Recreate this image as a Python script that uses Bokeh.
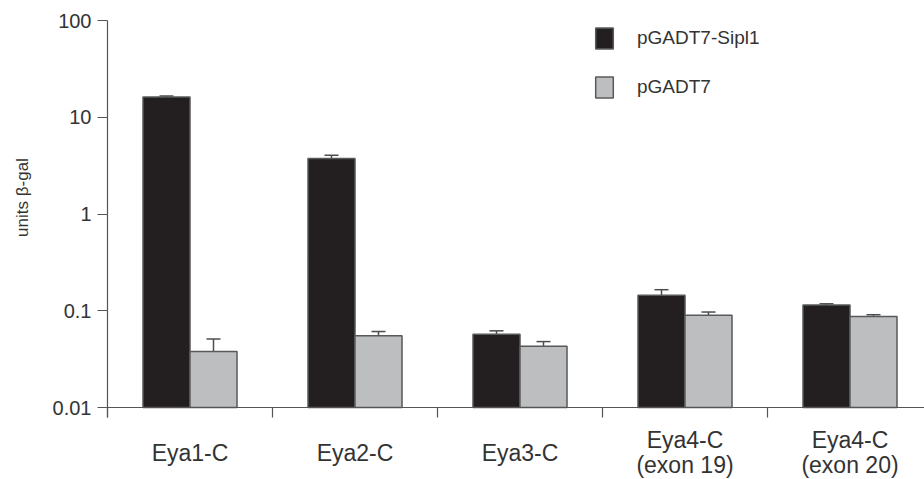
import math
from bokeh.plotting import figure
from bokeh.models import (ColumnDataSource, Range1d, FixedTicker, CustomJSTickFormatter,
                          Whisker, TeeHead, Legend, LegendItem, Label)
from bokeh.embed import file_html
from bokeh.resources import INLINE

# ---- data ----
categories = ["Eya1-C", "Eya2-C", "Eya3-C", "Eya4-C\n(exon 19)", "Eya4-C\n(exon 20)"]
series_names = ["pGADT7-Sipl1", "pGADT7"]
sipl1_values = [16.2, 3.75, 0.057, 0.145, 0.115]
sipl1_errors = [0.4, 0.31, 0.005, 0.02, 0.003]
gadt7_values = [0.038, 0.055, 0.043, 0.090, 0.087]
gadt7_errors = [0.013, 0.006, 0.005, 0.007, 0.004]
y_ticks = [0.01, 0.1, 1, 10, 100]
y_label = "units β-gal"

# ---- layout / style (pixels) ----
FONT = "Liberation Sans"
DARK = "#231f20"
GRAY = "#bcbec0"
EDGE = "#58595b"
AXC = "#555555"
TXT = "#333333"
W, H = 924, 479
AXIS_X = 107          # y-axis position on canvas
AXIS_Y = 407          # x-axis position on canvas
TOP = 20              # position of the top tick on canvas
CAT_PX = 165.0
BAR_W = 0.285
OFF = 0.1424

n = len(categories)
centers = [i + 0.5 for i in range(n)]
lo, hi = math.log10(y_ticks[0]), math.log10(y_ticks[-1])
px_dec = (AXIS_Y - TOP) / (hi - lo)
y_start = 10 ** (lo - (H - AXIS_Y) / px_dec)
y_end = 10 ** (hi + TOP / px_dec)
x_start = -AXIS_X / CAT_PX
x_end = (W - AXIS_X) / CAT_PX

p = figure(width=W, height=H, y_axis_type="log", output_backend="svg",
           toolbar_location=None, x_range=Range1d(x_start, x_end),
           y_range=Range1d(y_start, y_end),
           min_border_left=0, min_border_right=0, min_border_top=0,
           min_border_bottom=0)
p.outline_line_color = None
p.grid.visible = False
p.background_fill_color = "white"
p.border_fill_color = "white"

src1 = ColumnDataSource(dict(
    x=[c - OFF for c in centers], top=sipl1_values,
    lower=sipl1_values, upper=[v + e for v, e in zip(sipl1_values, sipl1_errors)]))
src2 = ColumnDataSource(dict(
    x=[c + OFF for c in centers], top=gadt7_values,
    lower=gadt7_values, upper=[v + e for v, e in zip(gadt7_values, gadt7_errors)]))

r1 = p.vbar(x="x", top="top", bottom=y_ticks[0], width=BAR_W, source=src1,
            fill_color=DARK, line_color=EDGE, line_width=1.5)
r2 = p.vbar(x="x", top="top", bottom=y_ticks[0], width=BAR_W, source=src2,
            fill_color=GRAY, line_color=EDGE, line_width=1.5)

for src in (src1, src2):
    w = Whisker(base="x", lower="lower", upper="upper", source=src, dimension="height",
                line_color="#4d4d4f", line_width=1.5,
                upper_head=TeeHead(size=14, line_color="#4d4d4f", line_width=1.5),
                lower_head=None)
    p.add_layout(w)

# x axis: drawn at y = 0.01, ticks at category boundaries
ax = p.xaxis[0]
ax.fixed_location = y_ticks[0]
ax.bounds = (0, x_end)
ax.ticker = FixedTicker(ticks=[], minor_ticks=list(range(n + 1)))
ax.major_tick_out = 0
ax.major_tick_in = 0
ax.minor_tick_out = 10
ax.minor_tick_in = 0
ax.axis_line_color = AXC
ax.minor_tick_line_color = AXC
ax.axis_line_width = 1.2
ax.minor_tick_line_width = 1.2

# y axis: drawn at x = 0
ay = p.yaxis[0]
ay.fixed_location = 0
ay.bounds = (10 ** (lo - 10 / px_dec), y_ticks[-1])
ay.ticker = FixedTicker(ticks=y_ticks)
ay.formatter = CustomJSTickFormatter(code="return tick.toString();")
ay.major_tick_out = 10
ay.major_tick_in = 0
ay.minor_tick_out = 0
ay.minor_tick_in = 0
ay.major_label_standoff = 6
ay.major_label_text_font = FONT
ay.major_label_text_font_size = "20px"
ay.major_label_text_color = TXT
ay.axis_line_color = AXC
ay.major_tick_line_color = AXC
ay.axis_line_width = 1.2
ay.major_tick_line_width = 1.2

# y axis title
p.add_layout(Label(x=22, y=H - 197, x_units="screen", y_units="screen", text=y_label,
                   angle=math.pi / 2, text_align="center", text_baseline="middle",
                   text_font=FONT, text_font_size="17px", text_color=TXT))

# category labels
for c, lab in zip(centers, categories):
    p.add_layout(Label(x=c, y=H - 452, x_units="data", y_units="screen", text=lab,
                       text_align="center", text_baseline="middle",
                       text_font=FONT, text_font_size="23px", text_color=TXT,
                       text_line_height=0.95))

legend = Legend(items=[LegendItem(label=series_names[0], renderers=[r1]),
                       LegendItem(label=series_names[1], renderers=[r2])],
                location=(486 + AXIS_X, 307 + (H - AXIS_Y)), orientation="vertical")
legend.glyph_width = 22
legend.glyph_height = 26
legend.label_height = 26
legend.spacing = 23
legend.padding = 0
legend.margin = 0
legend.label_standoff = 22
legend.label_text_font = FONT
legend.label_text_font_size = "19px"
legend.label_text_color = TXT
legend.border_line_color = None
legend.background_fill_alpha = 0
p.add_layout(legend)

open("out.html", "w").write(file_html(p, INLINE))
